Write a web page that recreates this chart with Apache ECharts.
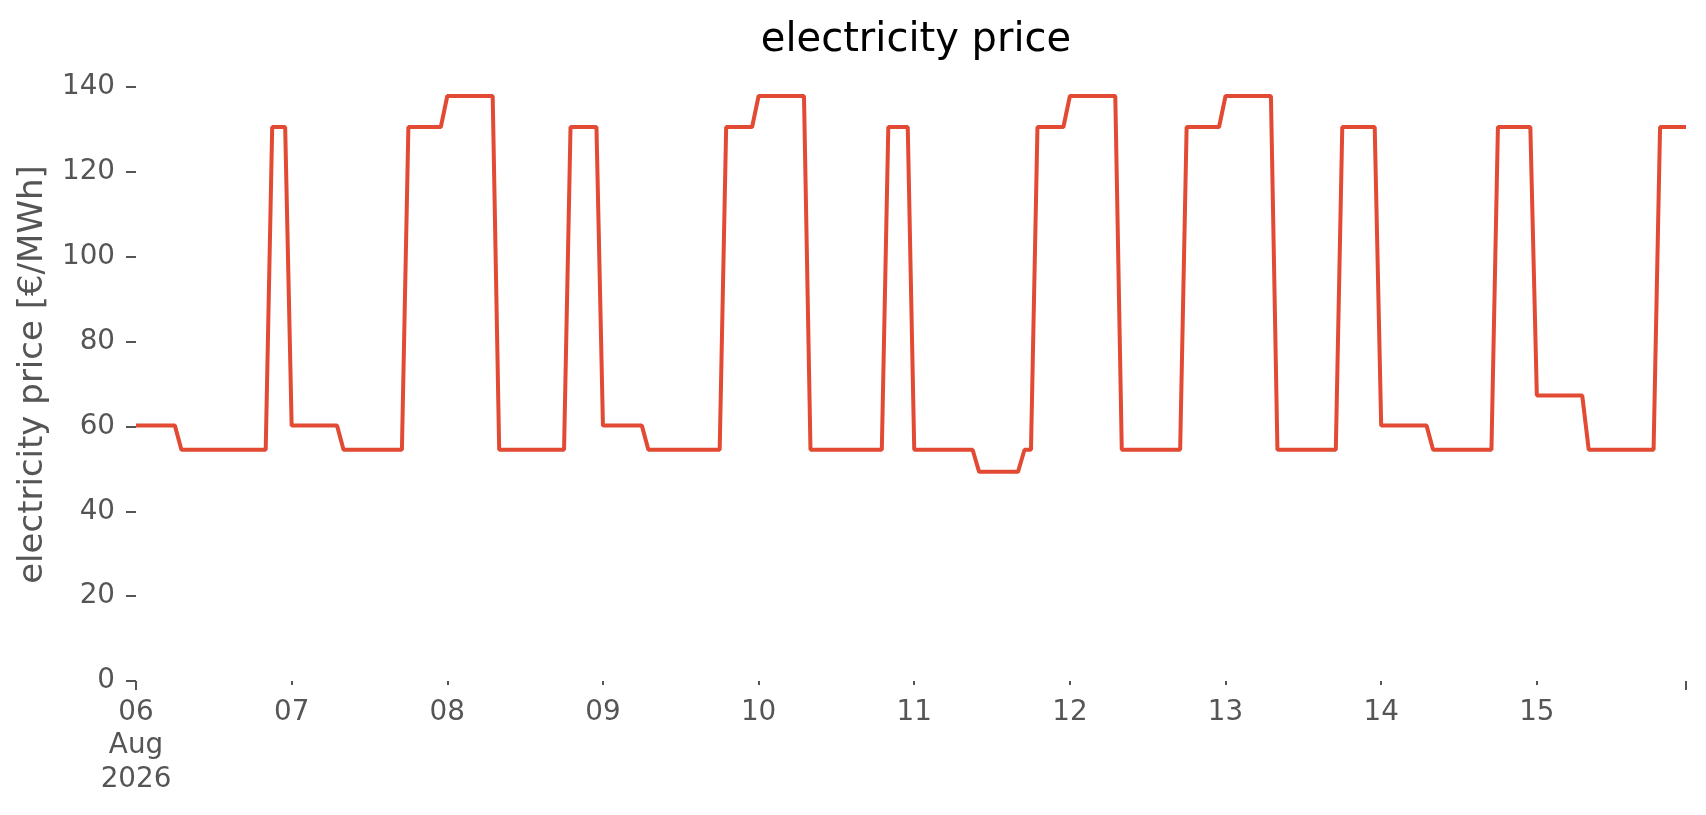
<!DOCTYPE html>
<html>
<head>
<meta charset="utf-8">
<title>electricity price</title>
<script src="https://cdn.jsdelivr.net/npm/echarts@6/dist/echarts.min.js"></script>
<style>
  html, body { margin: 0; padding: 0; background: #fff; }
  #chart { width: 1706px; height: 815px; }
</style>
</head>
<body>
<div id="chart"></div>
<script>
// hourly prices [€/MWh], one array per day (00:00 .. 23:00)
const aug06 = [60.2,60.2,60.2,60.2,60.2,60.2,60.2,54.5,54.5,54.5,54.5,54.5,54.5,54.5,54.5,54.5,54.5,54.5,54.5,54.5,54.5,130.6,130.6,130.6];
const aug07 = [60.2,60.2,60.2,60.2,60.2,60.2,60.2,60.2,54.5,54.5,54.5,54.5,54.5,54.5,54.5,54.5,54.5,54.5,130.6,130.6,130.6,130.6,130.6,130.6];
const aug08 = [137.9,137.9,137.9,137.9,137.9,137.9,137.9,137.9,54.5,54.5,54.5,54.5,54.5,54.5,54.5,54.5,54.5,54.5,54.5,130.6,130.6,130.6,130.6,130.6];
const aug09 = [60.2,60.2,60.2,60.2,60.2,60.2,60.2,54.5,54.5,54.5,54.5,54.5,54.5,54.5,54.5,54.5,54.5,54.5,54.5,130.6,130.6,130.6,130.6,130.6];
const aug10 = [137.9,137.9,137.9,137.9,137.9,137.9,137.9,137.9,54.5,54.5,54.5,54.5,54.5,54.5,54.5,54.5,54.5,54.5,54.5,54.5,130.6,130.6,130.6,130.6];
const aug11 = [54.5,54.5,54.5,54.5,54.5,54.5,54.5,54.5,54.5,54.5,49.3,49.3,49.3,49.3,49.3,49.3,49.3,54.5,54.5,130.6,130.6,130.6,130.6,130.6];
const aug12 = [137.9,137.9,137.9,137.9,137.9,137.9,137.9,137.9,54.5,54.5,54.5,54.5,54.5,54.5,54.5,54.5,54.5,54.5,130.6,130.6,130.6,130.6,130.6,130.6];
const aug13 = [137.9,137.9,137.9,137.9,137.9,137.9,137.9,137.9,54.5,54.5,54.5,54.5,54.5,54.5,54.5,54.5,54.5,54.5,130.6,130.6,130.6,130.6,130.6,130.6];
const aug14 = [60.2,60.2,60.2,60.2,60.2,60.2,60.2,60.2,54.5,54.5,54.5,54.5,54.5,54.5,54.5,54.5,54.5,54.5,130.6,130.6,130.6,130.6,130.6,130.6];
const aug15 = [67.3,67.3,67.3,67.3,67.3,67.3,67.3,67.3,54.5,54.5,54.5,54.5,54.5,54.5,54.5,54.5,54.5,54.5,54.5,130.6,130.6,130.6,130.6,130.6];

const days = [aug06, aug07, aug08, aug09, aug10, aug11, aug12, aug13, aug14, aug15];
const dayLabels = ['06\nAug\n2026', '07', '08', '09', '10', '11', '12', '13', '14', '15'];
const yTicks = [0, 20, 40, 60, 80, 100, 120, 140];

const FONT = 'DejaVu Sans';
const GREY = '#555555';
const GRID = { left: 136, right: 20, top: 68, bottom: 134 };

// x = hours since 2026-08-06 00:00
const seriesData = [];
days.forEach((day, d) => day.forEach((v, h) => seriesData.push([d * 24 + h, v])));
const lastHour = seriesData.length - 1;
const dayStarts = dayLabels.map((_, d) => d * 24);

const chart = echarts.init(document.getElementById('chart'));
// title centred over the plot area, not the whole canvas
const plotCentre = GRID.left + (1706 - GRID.left - GRID.right) / 2;
chart.setOption({
  animation: false,
  backgroundColor: '#ffffff',
  title: {
    text: 'electricity price',
    left: plotCentre,
    textAlign: 'center',
    top: 16,
    textStyle: { fontFamily: FONT, fontSize: 40, fontWeight: 'normal', color: '#000' }
  },
  grid: GRID,
  xAxis: [{
    type: 'value',
    min: 0,
    max: lastHour,
    axisLine: { show: false },
    splitLine: { show: false },
    axisTick: { show: true, length: 4, lineStyle: { color: GREY, width: 2 },
      customValues: dayStarts.slice(1) },
    axisLabel: {
      customValues: dayStarts,
      margin: 15,
      fontFamily: FONT, fontSize: 27.8, lineHeight: 33.4, color: GREY,
      formatter: v => dayLabels[Math.round(v / 24)] || ''
    }
  }, {
    type: 'value',
    min: 0,
    max: lastHour,
    position: 'bottom',
    axisLine: { show: false },
    splitLine: { show: false },
    axisTick: { show: true, length: 9, lineStyle: { color: GREY, width: 2 },
      customValues: [0, lastHour] },
    axisLabel: { show: false }
  }],
  yAxis: {
    type: 'value',
    min: 0,
    max: 144.5,
    interval: 20,
    name: 'electricity price [€/MWh]',
    nameLocation: 'middle',
    nameGap: 86,
    nameTextStyle: { fontFamily: FONT, fontSize: 34, color: GREY },
    axisLine: { show: false },
    splitLine: { show: false },
    axisTick: { show: true, length: 10, lineStyle: { color: GREY, width: 2 }, customValues: yTicks },
    axisLabel: { customValues: yTicks, margin: 21, fontFamily: FONT, fontSize: 27.8, color: GREY }
  },
  series: [{
    type: 'line',
    data: seriesData,
    showSymbol: false,
    lineStyle: { color: '#E24A33', width: 4 },
    itemStyle: { color: '#E24A33' }
  }]
});
window.addEventListener('resize', () => chart.resize());
</script>
</body>
</html>
